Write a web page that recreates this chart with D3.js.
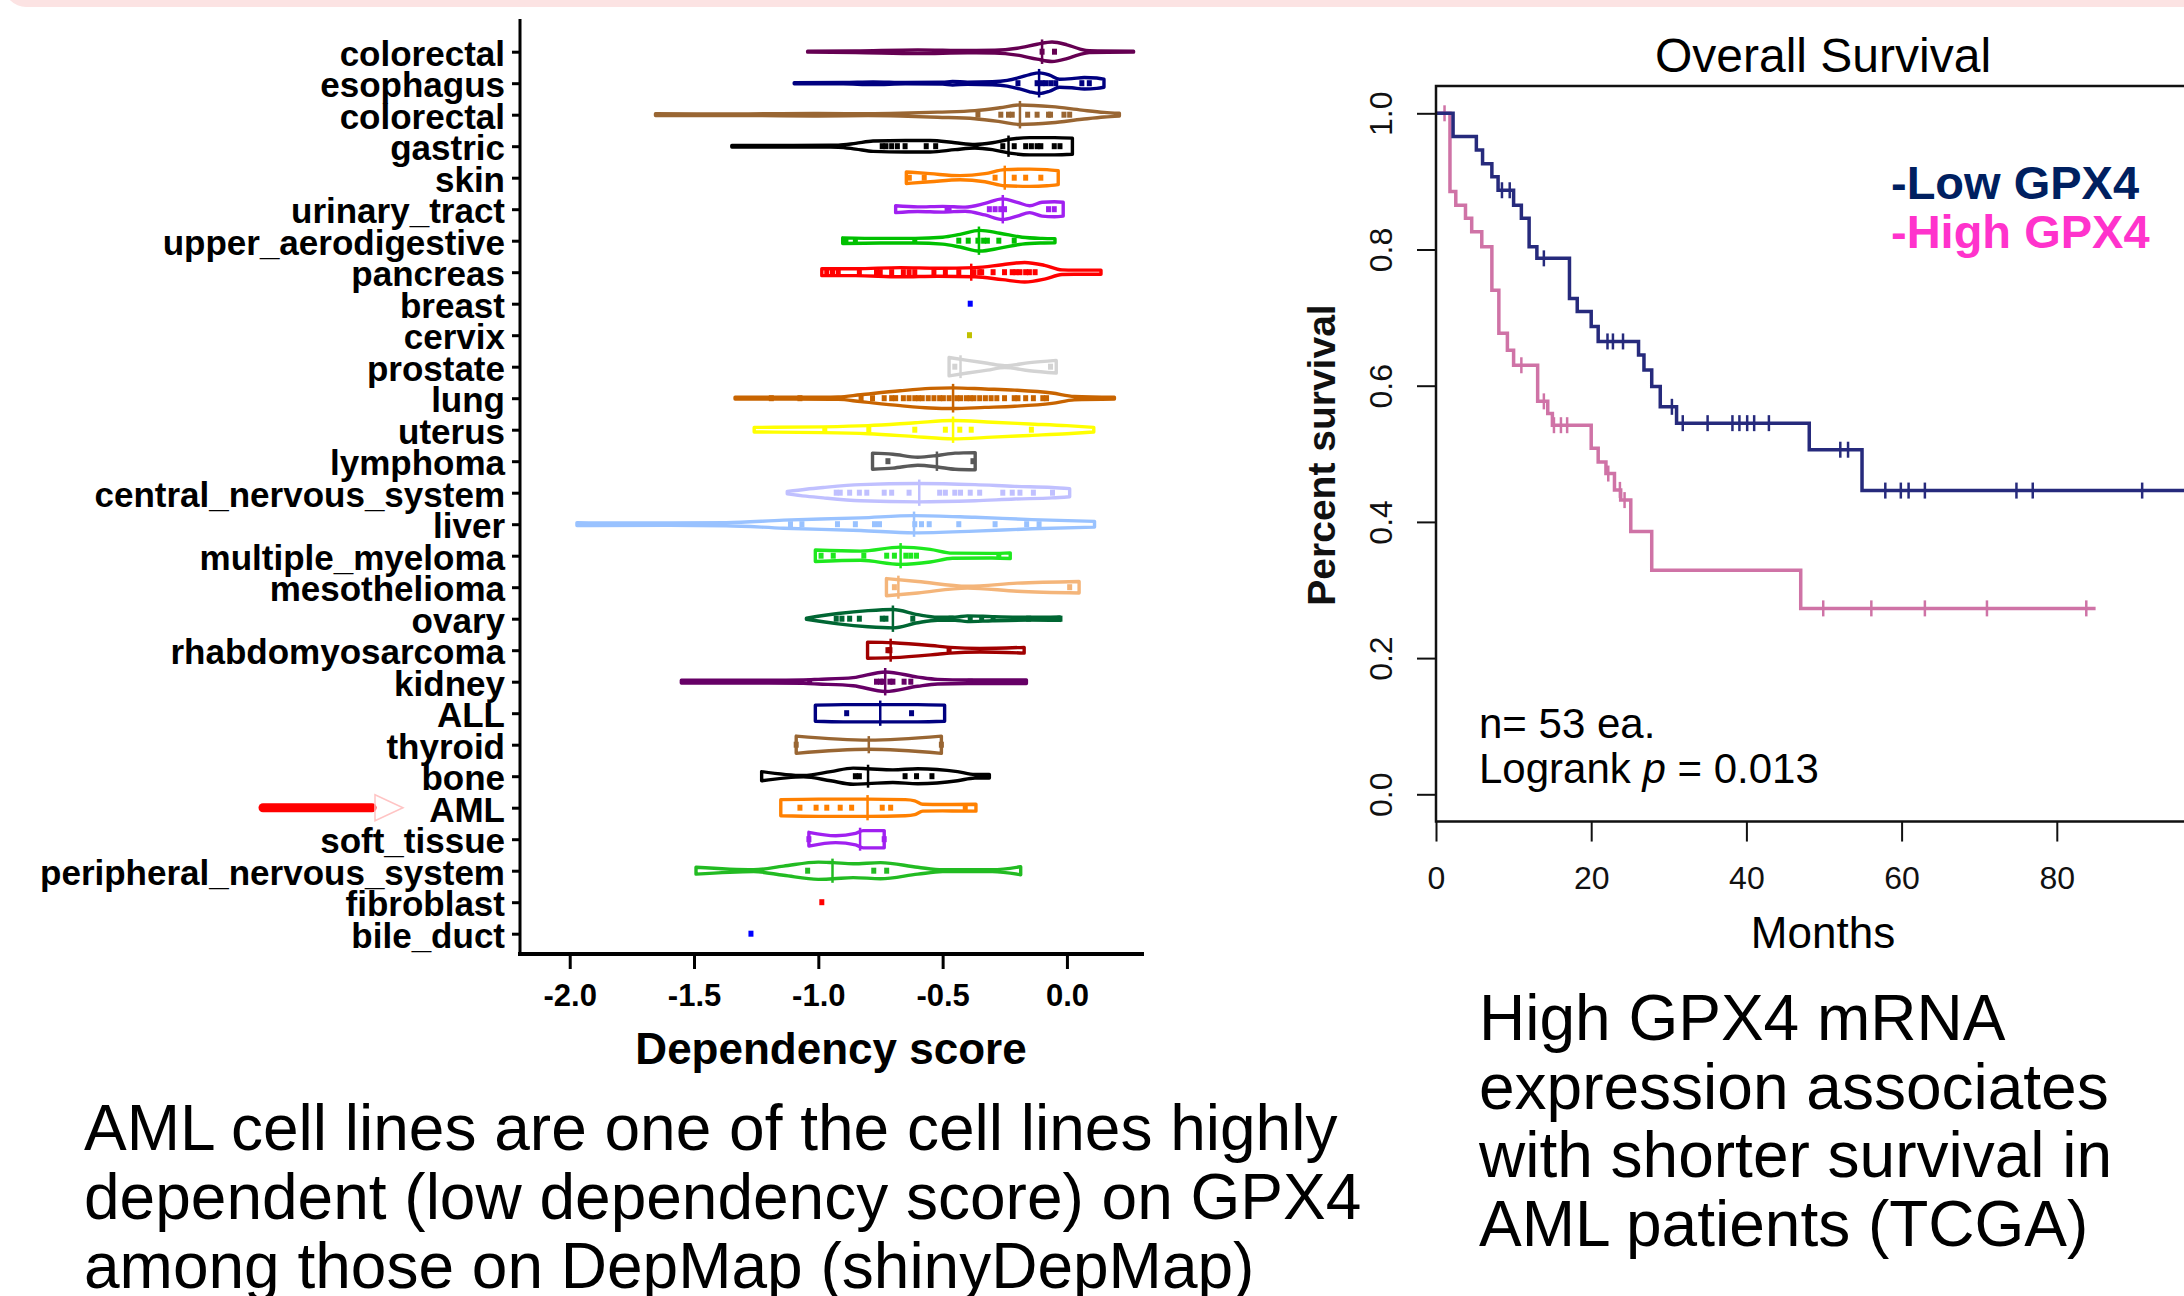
<!DOCTYPE html>
<html>
<head>
<meta charset="utf-8">
<script src="https://cdn.jsdelivr.net/npm/d3@7"></script>
<style>
  body { margin: 0; background: #fff; }
  text { font-family: "Liberation Sans", Arial, sans-serif; }
</style>
</head>
<body>
<div class="chart"></div>
<script>
// Left: GPX4 dependency score violins by lineage (shinyDepMap)
// Right: Kaplan-Meier overall survival, low vs high GPX4 (TCGA AML)

var svgWidth = 2184;
var svgHeight = 1296;

//__________________________________________________________________________________
// Violin data
var categories = ["colorectal", "esophagus", "colorectal", "gastric", "skin", "urinary_tract",
  "upper_aerodigestive", "pancreas", "breast", "cervix", "prostate", "lung", "uterus", "lymphoma",
  "central_nervous_system", "liver", "multiple_myeloma", "mesothelioma", "ovary", "rhabdomyosarcoma",
  "kidney", "ALL", "thyroid", "bone", "AML", "soft_tissue", "peripheral_nervous_system",
  "fibroblast", "bile_duct"];

var violinColors = ["#650052", "#000080", "#996633", "#000000", "#ff8000", "#a020f0",
  "#00c000", "#ff0000", "#0000ff", "#c0c000", "#d3d3d3", "#c86400", "#ffff00", "#595959",
  "#c0c0ff", "#99c2ff", "#1ee81e", "#f4b57a", "#006633", "#a00000",
  "#660066", "#000080", "#996633", "#000000", "#ff8000", "#a020f0", "#22bb22",
  "#ff0000", "#0000ff"];

// violin outline: [dependency score, half width]
var violinShapes = [
  [[-1.043, 0.4], [-0.85, 0.7], [-0.6, 1.6], [-0.4, 1.0], [-0.29, 1.2], [-0.2, 3], [-0.12, 6.5], [-0.06, 8.5], [0.0, 6], [0.05, 2.5], [0.09, 0.8], [0.268, 0.4]],
  [[-1.097, 0.5], [-0.9, 0.6], [-0.78, 1.1], [-0.65, 0.6], [-0.5, 0.8], [-0.46, 1.6], [-0.4, 0.9], [-0.3, 1.3], [-0.24, 2.5], [-0.19, 5], [-0.15, 7.5], [-0.11, 9], [-0.07, 7], [-0.03, 3.5], [0.02, 4], [0.07, 5], [0.12, 4.5], [0.149, 3.5]],
  [[-1.655, 0.8], [-1.3, 0.7], [-1.0, 1.1], [-0.8, 0.8], [-0.67, 1.2], [-0.52, 2.2], [-0.37, 3.5], [-0.27, 6], [-0.19, 8.5], [-0.06, 7], [0.06, 4], [0.15, 2], [0.211, 1.2]],
  [[-1.348, 0.7], [-1.1, 0.7], [-0.92, 0.9], [-0.85, 2.5], [-0.78, 4.5], [-0.65, 5], [-0.55, 5], [-0.45, 3], [-0.37, 1.5], [-0.3, 3], [-0.23, 6], [-0.15, 7.5], [-0.05, 7.5], [0.022, 7]],
  [[-0.646, 5], [-0.55, 3.5], [-0.43, 1.8], [-0.33, 3.5], [-0.25, 7], [-0.15, 7.5], [-0.08, 7], [-0.035, 6]],
  [[-0.689, 3], [-0.6, 2], [-0.5, 2.5], [-0.41, 1.8], [-0.33, 5], [-0.26, 9], [-0.2, 6], [-0.15, 3], [-0.1, 6], [-0.05, 6.5], [-0.015, 6]],
  [[-0.902, 2.5], [-0.75, 2], [-0.61, 2], [-0.5, 3], [-0.43, 5.5], [-0.35, 9], [-0.27, 6.5], [-0.18, 3], [-0.1, 2], [-0.048, 1.8]],
  [[-0.986, 3], [-0.85, 3], [-0.67, 4], [-0.52, 3.5], [-0.37, 4], [-0.26, 6.5], [-0.17, 8.5], [-0.09, 6], [-0.02, 2], [0.03, 1.8], [0.137, 1.8]],
  null,
  null,
  [[-0.474, 8], [-0.4, 5.5], [-0.32, 3], [-0.25, 0.8], [-0.15, 3.5], [-0.043, 5.5]],
  [[-1.335, 0.8], [-1.1, 0.8], [-0.92, 1], [-0.83, 3], [-0.67, 6.5], [-0.55, 8.5], [-0.46, 9], [-0.33, 8], [-0.21, 7], [-0.06, 4.5], [0.03, 1.5], [0.191, 0.8]],
  [[-1.258, 2], [-0.98, 2.5], [-0.8, 3.5], [-0.61, 6], [-0.46, 8], [-0.3, 6.5], [-0.15, 5], [0.0, 3.5], [0.108, 2]],
  [[-0.782, 7], [-0.7, 6], [-0.6, 3.5], [-0.52, 5], [-0.45, 7], [-0.369, 7.5]],
  [[-1.125, 1], [-1.05, 3], [-0.98, 4.5], [-0.83, 7], [-0.6, 8], [-0.37, 7], [-0.21, 5.5], [-0.06, 4.5], [0.011, 3.5]],
  [[-1.971, 1.2], [-1.6, 1], [-1.37, 1.3], [-1.14, 3.5], [-0.83, 5.5], [-0.615, 7.5], [-0.37, 6], [-0.14, 4], [0.111, 2.5]],
  [[-1.012, 5], [-0.83, 4], [-0.67, 7.5], [-0.55, 5.5], [-0.46, 2.2], [-0.3, 2], [-0.228, 2.5]],
  [[-0.726, 7.5], [-0.6, 5], [-0.4, 0.8], [-0.2, 3.5], [0.049, 5]],
  [[-1.048, 0.5], [-0.92, 4.5], [-0.8, 7], [-0.7, 8], [-0.6, 3.5], [-0.52, 1.3], [-0.45, 1.3], [-0.4, 2.5], [-0.3, 1.8], [-0.15, 1.2], [-0.028, 1.5]],
  [[-0.802, 7], [-0.7, 6.5], [-0.52, 3.5], [-0.47, 2.5], [-0.35, 1.5], [-0.172, 2.5]],
  [[-1.551, 1.2], [-1.2, 1.2], [-1.06, 1.5], [-1.0, 2], [-0.86, 3.5], [-0.73, 8.5], [-0.6, 4], [-0.52, 2], [-0.4, 1.5], [-0.163, 1.5]],
  [[-1.012, 7], [-0.9, 7.5], [-0.75, 7.5], [-0.6, 7.5], [-0.492, 7]],
  [[-1.089, 7.5], [-0.797, 4], [-0.505, 7.5]],
  [[-1.228, 4], [-1.06, 0.6], [-0.95, 4], [-0.86, 7], [-0.8, 6.5], [-0.7, 5.5], [-0.6, 6.5], [-0.44, 4], [-0.37, 1.5], [-0.312, 1.5]],
  [[-1.151, 7], [-1.0, 7.5], [-0.8, 7.5], [-0.65, 7], [-0.612, 6], [-0.58, 3], [-0.5, 2.8], [-0.366, 3]],
  [[-1.038, 6], [-0.93, 3], [-0.85, 5], [-0.82, 7.5], [-0.735, 7.5]],
  [[-1.492, 3], [-1.26, 0.8], [-1.14, 4], [-1.0, 7.5], [-0.94, 7], [-0.86, 6], [-0.75, 7], [-0.6, 3], [-0.5, 0.8], [-0.3, 0.8], [-0.186, 3.5]],
  null,
  null
];

var medians = [-0.10, -0.112, -0.189, -0.235, -0.25, -0.258, -0.354, -0.385, null, null,
  -0.428, -0.458, -0.458, -0.523, -0.594, -0.615, -0.669, -0.678, -0.70, -0.709,
  -0.731, -0.751, -0.797, -0.80, -0.802, -0.832, -0.943, null, null];

// individual cell lines (dependency scores)
var cellLineScores = [
  [-0.10, -0.05],
  [-0.197, -0.12, -0.10, -0.085, -0.065, -0.045, 0.06, 0.09],
  [-0.358, -0.266, -0.235, -0.22, -0.158, -0.12, -0.074, -0.066, -0.012, 0.011],
  [-0.743, -0.728, -0.705, -0.682, -0.651, -0.566, -0.528, -0.366, -0.258, -0.212, -0.166, -0.143, -0.12, -0.105, -0.051, -0.028],
  [-0.634, -0.574, -0.289, -0.212, -0.166, -0.105],
  [-0.482, -0.474, -0.312, -0.289, -0.266, -0.251, -0.074, -0.051],
  [-0.889, -0.851, -0.612, -0.435, -0.397, -0.358, -0.335, -0.32, -0.274, -0.212],
  [-0.966, -0.943, -0.92, -0.835, -0.766, -0.751, -0.705, -0.658, -0.635, -0.612, -0.535, -0.489, -0.435, -0.374, -0.351, -0.343, -0.297, -0.251, -0.22, -0.205, -0.189, -0.166, -0.151, -0.128],
  [-0.389],
  [-0.392],
  [-0.451, -0.066],
  [-1.189, -1.074, -0.828, -0.782, -0.735, -0.705, -0.689, -0.658, -0.635, -0.612, -0.597, -0.582, -0.558, -0.535, -0.512, -0.497, -0.474, -0.443, -0.428, -0.405, -0.389, -0.374, -0.351, -0.328, -0.305, -0.282, -0.251, -0.212, -0.197, -0.166, -0.135, -0.097, -0.082],
  [-0.974, -0.797, -0.612, -0.489, -0.431, -0.385, -0.143],
  [-0.72, -0.378],
  [-0.928, -0.912, -0.874, -0.835, -0.805, -0.735, -0.705, -0.635, -0.512, -0.489, -0.451, -0.428, -0.389, -0.351, -0.258, -0.22, -0.189, -0.135, -0.058],
  [-1.112, -1.066, -0.923, -0.851, -0.774, -0.754, -0.612, -0.585, -0.554, -0.435, -0.289, -0.162, -0.112],
  [-0.989, -0.94, -0.817, -0.725, -0.694, -0.648, -0.628, -0.605, -0.274],
  [-0.694, 0.011],
  [-0.928, -0.905, -0.874, -0.835, -0.743, -0.728, -0.62, -0.466, -0.389, -0.343, -0.297, -0.154, -0.028],
  [-0.72, -0.712, -0.474],
  [-1.035, -0.766, -0.75, -0.74, -0.712, -0.70, -0.655, -0.628, -0.389],
  [-0.886, -0.625],
  [-1.089, -0.505],
  [-0.851, -0.835, -0.651, -0.605, -0.543],
  [-1.074, -1.009, -0.966, -0.912, -0.866, -0.743, -0.709, -0.409],
  [-1.038, -0.735],
  [-1.043, -0.777, -0.725],
  [-0.986],
  [-1.271]
];

var depTicks = [-2.0, -1.5, -1.0, -0.5, 0.0];

//__________________________________________________________________________________
// Survival data (months, fraction surviving after each step)
var lowTimes = [0, 2.2, 5.2, 6.0, 7.2, 8.0, 10.0, 11.0, 12.0, 13.0, 17.2, 18.2, 20.0, 20.9, 26.1, 26.8, 27.8, 28.9, 31.0, 48.1, 54.9];
var lowSurv = [1, 0.966, 0.946, 0.926, 0.907, 0.887, 0.865, 0.846, 0.804, 0.787, 0.728, 0.709, 0.687, 0.665, 0.645, 0.623, 0.599, 0.569, 0.545, 0.506, 0.446];
var lowLastTime = 100;
var lowCensored = [8.5, 9.5, 13.9, 22.1, 22.8, 24.1, 30.4, 31.8, 35.0, 38.2, 39.1, 40.1, 41.0, 42.9, 52.1, 53.1, 57.9, 59.9, 60.9, 63.0, 74.8, 76.9, 91.0];

var highTimes = [0, 1.8, 2.55, 3.8, 4.6, 5.9, 7.2, 8.1, 9.2, 10.0, 13.1, 14.4, 15.0, 20.0, 20.9, 21.9, 23.0, 23.8, 25.1, 27.8, 47.0];
var highSurv = [1, 0.885, 0.865, 0.846, 0.826, 0.804, 0.740, 0.677, 0.652, 0.630, 0.577, 0.559, 0.542, 0.508, 0.488, 0.471, 0.447, 0.432, 0.386, 0.329, 0.273];
var highLastTime = 85.0;
var highCensored = [1.1, 11.0, 13.9, 15.2, 16.1, 16.9, 22.2, 23.7, 24.3, 49.9, 56.1, 63.0, 71.0, 83.8];

var monthTicks = [0, 20, 40, 60, 80];
var survTicks = [0.0, 0.2, 0.4, 0.6, 0.8, 1.0];

var leftCaption = ["AML cell lines are one of the cell lines highly",
  "dependent (low dependency score) on GPX4",
  "among those on DepMap (shinyDepMap)"];
var rightCaption = ["High GPX4 mRNA", "expression associates", "with shorter survival in", "AML patients (TCGA)"];

//__________________________________________________________________________________
var svg = d3.select(".chart")
  .append("svg")
  .attr("width", svgWidth)
  .attr("height", svgHeight);

svg.append("rect")
  .attr("width", svgWidth)
  .attr("height", svgHeight)
  .attr("fill", "#fff");

// pink band along the top edge
svg.append("rect")
  .attr("x", 4)
  .attr("y", -40)
  .attr("width", svgWidth + 40)
  .attr("height", 47)
  .attr("rx", 22)
  .attr("fill", "#fce3e3");

//__________________________________________________________________________________
// Violin chart
var xDep = d3.scaleLinear().domain([-2.2, 0.31]).range([520, 1144]);
var yRow = d3.scalePoint().domain(d3.range(categories.length)).range([51.7, 933.7]);
var wScale = d3.scaleLinear().domain([0, 10]).range([0, 11.5]);

var violinGroup = svg.append("g");

categories.forEach(function(cat, i) {
  var cy = yRow(i);
  var color = violinColors[i];
  var shape = violinShapes[i];

  if (shape) {
    var area = d3.area()
      .x(d => xDep(d[0]))
      .y0(d => cy - wScale(d[1]))
      .y1(d => cy + wScale(d[1]))
      .curve(d3.curveMonotoneX);

    violinGroup.append("path")
      .attr("d", area(shape))
      .attr("fill", "none")
      .attr("stroke", color)
      .attr("stroke-width", 3.4)
      .attr("stroke-linejoin", "round");

    // median mark
    var halfAt = d3.scaleLinear().domain(shape.map(d => d[0])).range(shape.map(d => d[1]));
    var hm = wScale(halfAt(medians[i])) + 4;
    violinGroup.append("line")
      .attr("x1", xDep(medians[i]))
      .attr("x2", xDep(medians[i]))
      .attr("y1", cy - hm)
      .attr("y2", cy + hm)
      .attr("stroke", color)
      .attr("stroke-width", 2.5);
  }

  violinGroup.selectAll(null)
    .data(cellLineScores[i])
    .enter()
    .append("rect")
    .attr("x", d => xDep(d) - 2.5)
    .attr("y", cy - 3)
    .attr("width", 5)
    .attr("height", 6)
    .attr("fill", color);
});

// y axis with lineage names
var leftAxis = d3.axisLeft(yRow)
  .tickSize(8)
  .tickPadding(7)
  .tickFormat(i => categories[i]);

var yAxisGroup = svg.append("g")
  .attr("transform", "translate(520, 0)")
  .call(leftAxis);
yAxisGroup.select(".domain").remove();
yAxisGroup.selectAll("line").attr("stroke", "#000").attr("stroke-width", 3);
yAxisGroup.selectAll("text")
  .attr("dy", "0.38em")
  .attr("fill", "#000")
  .style("font-size", "35px")
  .style("font-weight", "bold");

svg.append("line")
  .attr("x1", 520).attr("x2", 520)
  .attr("y1", 19).attr("y2", 955)
  .attr("stroke", "#000")
  .attr("stroke-width", 3);

// x axis
var bottomAxis = d3.axisBottom(xDep)
  .tickValues(depTicks)
  .tickSize(15)
  .tickPadding(15)
  .tickFormat(d => d.toFixed(1));

var xAxisGroup = svg.append("g")
  .attr("transform", "translate(0, 954)")
  .call(bottomAxis);
xAxisGroup.select(".domain").remove();
xAxisGroup.selectAll("line").attr("stroke", "#000").attr("stroke-width", 3);
xAxisGroup.selectAll("text")
  .attr("fill", "#000")
  .style("font-size", "31px")
  .style("font-weight", "bold");

svg.append("line")
  .attr("x1", 518).attr("x2", 1144)
  .attr("y1", 954).attr("y2", 954)
  .attr("stroke", "#000")
  .attr("stroke-width", 4);

svg.append("text")
  .attr("x", 831)
  .attr("y", 1064)
  .attr("text-anchor", "middle")
  .style("font-size", "44px")
  .style("font-weight", "bold")
  .text("Dependency score");

// red arrow pointing at AML
var amlY = yRow(categories.indexOf("AML"));
svg.append("line")
  .attr("x1", 263).attr("x2", 372)
  .attr("y1", amlY).attr("y2", amlY)
  .attr("stroke", "#ff0000")
  .attr("stroke-width", 9)
  .attr("stroke-linecap", "round");
svg.append("path")
  .attr("d", `M375,${amlY - 13} L403,${amlY} L375,${amlY + 13} Z`)
  .attr("fill", "none")
  .attr("stroke", "#ffc4c4")
  .attr("stroke-width", 1.5);

//__________________________________________________________________________________
// Kaplan-Meier chart
var xMonth = d3.scaleLinear().domain([0, 100]).range([1436, 2212]);
var ySurv = d3.scaleLinear().domain([0, 1]).range([794.3, 113.3]);

var kmGroup = svg.append("g");

function stepPoints(times, surv, lastTime) {
  var pts = times.map((t, k) => [t, surv[k]]);
  pts.push([lastTime, surv[surv.length - 1]]);
  return pts;
}

function survAt(times, surv, t) {
  var k = d3.bisectRight(times, t) - 1;
  return surv[Math.max(k, 0)];
}

var stepLine = d3.line()
  .x(d => xMonth(d[0]))
  .y(d => ySurv(d[1]))
  .curve(d3.curveStepAfter);

var groups = [
  {times: highTimes, surv: highSurv, last: highLastTime, cens: highCensored, color: "#cf73a6"},
  {times: lowTimes, surv: lowSurv, last: lowLastTime, cens: lowCensored, color: "#262a7c"}
];

groups.forEach(function(g) {
  kmGroup.append("path")
    .attr("d", stepLine(stepPoints(g.times, g.surv, g.last)))
    .attr("fill", "none")
    .attr("stroke", g.color)
    .attr("stroke-width", 3.5);

  kmGroup.selectAll(null)
    .data(g.cens)
    .enter()
    .append("line")
    .attr("x1", d => xMonth(d))
    .attr("x2", d => xMonth(d))
    .attr("y1", d => ySurv(survAt(g.times, g.surv, d)) - 8)
    .attr("y2", d => ySurv(survAt(g.times, g.surv, d)) + 8)
    .attr("stroke", g.color)
    .attr("stroke-width", 2.5);
});

// plot frame
var frameTop = ySurv(1.04);
var frameBottom = ySurv(-0.04);
svg.append("path")
  .attr("d", `M${svgWidth + 5},${frameTop} H1436 V${frameBottom} H${svgWidth + 5}`)
  .attr("fill", "none")
  .attr("stroke", "#111")
  .attr("stroke-width", 2.5);

var survAxis = d3.axisLeft(ySurv)
  .tickValues(survTicks)
  .tickSize(19)
  .tickFormat(d => d.toFixed(1));

var survAxisGroup = svg.append("g")
  .attr("transform", "translate(1436, 0)")
  .call(survAxis);
survAxisGroup.select(".domain").remove();
survAxisGroup.selectAll("line").attr("stroke", "#111").attr("stroke-width", 2);
survAxisGroup.selectAll("text")
  .attr("x", null)
  .attr("dy", null)
  .attr("text-anchor", "middle")
  .attr("transform", "translate(-44, 0) rotate(-90)")
  .attr("fill", "#111")
  .style("font-size", "32px");

var monthAxis = d3.axisBottom(xMonth)
  .tickValues(monthTicks)
  .tickSize(20)
  .tickPadding(25);

var monthAxisGroup = svg.append("g")
  .attr("transform", `translate(0, ${frameBottom})`)
  .call(monthAxis);
monthAxisGroup.select(".domain").remove();
monthAxisGroup.selectAll("line").attr("stroke", "#111").attr("stroke-width", 2);
monthAxisGroup.selectAll("text")
  .attr("fill", "#111")
  .style("font-size", "32px");

svg.append("text")
  .attr("x", 1823)
  .attr("y", 72)
  .attr("text-anchor", "middle")
  .style("font-size", "48px")
  .text("Overall Survival");

svg.append("text")
  .attr("x", 1823)
  .attr("y", 948)
  .attr("text-anchor", "middle")
  .style("font-size", "44px")
  .text("Months");

svg.append("text")
  .attr("transform", "translate(1335, 455) rotate(-90)")
  .attr("text-anchor", "middle")
  .style("font-size", "39px")
  .style("font-weight", "bold")
  .attr("fill", "#111")
  .text("Percent survival");

// legend
svg.append("text")
  .attr("x", 1891)
  .attr("y", 199)
  .attr("fill", "#002060")
  .style("font-size", "47px")
  .style("font-weight", "bold")
  .text("-Low GPX4");

svg.append("text")
  .attr("x", 1891)
  .attr("y", 248)
  .attr("fill", "#ff33cc")
  .style("font-size", "47px")
  .style("font-weight", "bold")
  .text("-High GPX4");

// sample size and test
svg.append("text")
  .attr("x", 1479)
  .attr("y", 738)
  .style("font-size", "42px")
  .text("n= 53 ea.");

var logrank = svg.append("text")
  .attr("x", 1479)
  .attr("y", 783)
  .style("font-size", "42px");
logrank.append("tspan").text("Logrank ");
logrank.append("tspan").style("font-style", "italic").text("p");
logrank.append("tspan").text(" = 0.013");

//__________________________________________________________________________________
// captions
svg.selectAll(null)
  .data(leftCaption)
  .enter()
  .append("text")
  .attr("x", 84)
  .attr("y", (d, k) => 1150 + k * 69)
  .style("font-size", "64px")
  .text(d => d);

svg.selectAll(null)
  .data(rightCaption)
  .enter()
  .append("text")
  .attr("x", 1479)
  .attr("y", (d, k) => 1040 + k * 68.7)
  .style("font-size", "64px")
  .text(d => d);
</script>
</body>
</html>
